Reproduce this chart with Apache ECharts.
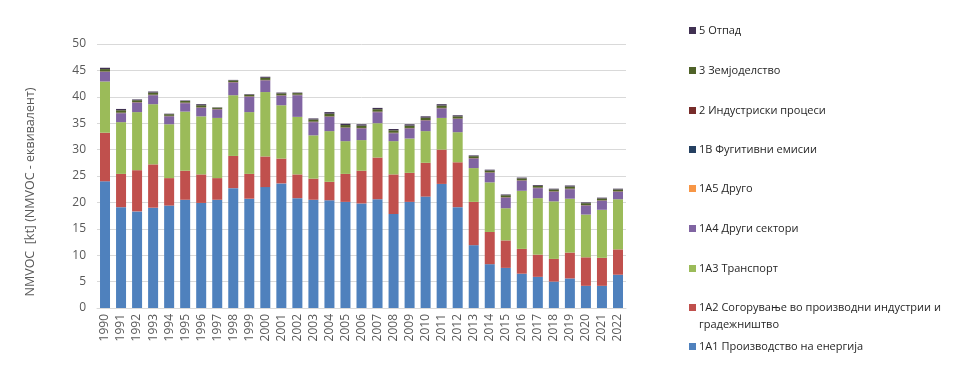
<!DOCTYPE html>
<html>
<head>
<meta charset="utf-8">
<script src="https://cdn.jsdelivr.net/npm/echarts@6/dist/echarts.min.js"></script>
<style>
html,body{margin:0;padding:0;background:#fff;}
#chart{width:960px;height:381px;}
</style>
</head>
<body>
<div id="chart"></div>
<script>
var years = ['1990','1991','1992','1993','1994','1995','1996','1997','1998','1999','2000','2001','2002','2003','2004','2005','2006','2007','2008','2009','2010','2011','2012','2013','2014','2015','2016','2017','2018','2019','2020','2021','2022'];
var yTicks = [0, 5, 10, 15, 20, 25, 30, 35, 40, 45, 50];

var energy1A1 = [24.0,19.1,18.3,19.0,19.4,20.5,19.9,20.5,22.7,20.7,22.9,23.6,20.8,20.5,20.4,20.1,19.8,20.6,17.8,20.1,21.1,23.5,19.1,11.9,8.3,7.6,6.5,5.9,5.0,5.6,4.2,4.2,6.3];
var industry1A2 = [9.2,6.3,7.8,8.2,5.2,5.5,5.4,4.1,6.1,4.7,5.8,4.7,4.5,4.0,3.5,5.3,6.2,7.9,7.5,5.5,6.4,6.5,8.5,8.2,6.1,5.2,4.7,4.2,4.3,4.9,5.4,5.3,4.8];
var transport1A3 = [9.7,9.8,11.0,11.4,10.2,11.2,11.0,11.4,11.5,11.7,12.2,10.1,10.9,8.2,9.6,6.2,5.8,6.5,6.3,6.5,6.0,6.0,5.7,6.4,9.4,6.1,11.0,10.7,10.9,10.2,8.1,9.1,9.5];
var other1A4 = [1.8,1.7,1.8,1.7,1.5,1.6,1.6,1.6,2.4,2.9,2.2,1.8,4.1,2.5,2.7,2.5,2.2,2.1,1.5,1.9,2.0,1.8,2.5,1.8,1.8,2.0,1.9,1.9,1.8,1.8,1.7,1.7,1.4];
var other1A5 = [0.02,0.02,0.02,0.02,0.02,0.02,0.02,0.02,0.02,0.02,0.02,0.02,0.02,0.02,0.02,0.02,0.02,0.02,0.02,0.02,0.02,0.02,0.02,0.02,0.02,0.02,0.02,0.02,0.02,0.02,0.02,0.02,0.02];
var fugitive1B = [0.03,0.03,0.03,0.03,0.03,0.03,0.03,0.03,0.03,0.03,0.03,0.03,0.03,0.03,0.03,0.03,0.03,0.03,0.03,0.03,0.03,0.03,0.03,0.03,0.03,0.03,0.03,0.03,0.03,0.03,0.03,0.03,0.03];
var industrial2 = [0.05,0.05,0.05,0.05,0.05,0.05,0.05,0.05,0.05,0.05,0.05,0.05,0.05,0.05,0.05,0.05,0.05,0.05,0.05,0.05,0.05,0.05,0.05,0.05,0.05,0.05,0.05,0.05,0.05,0.05,0.05,0.05,0.05];
var agriculture3 = [0.45,0.45,0.35,0.4,0.3,0.3,0.4,0.25,0.3,0.3,0.4,0.35,0.3,0.4,0.5,0.45,0.45,0.45,0.45,0.45,0.45,0.45,0.4,0.35,0.35,0.35,0.35,0.35,0.35,0.4,0.35,0.35,0.35];
var waste5 = [0.25,0.25,0.15,0.2,0.1,0.1,0.2,0.05,0.1,0.1,0.2,0.15,0.1,0.2,0.3,0.25,0.25,0.25,0.25,0.25,0.25,0.25,0.2,0.15,0.15,0.15,0.15,0.15,0.15,0.2,0.15,0.15,0.15];

var seriesNames = ['1A1 Производство на енергија','1A2 Согорување во производни индустрии и градежништво','1A3 Транспорт','1A4 Други сектори','1A5 Друго','1B Фугитивни емисии','2 Индустриски процеси','3 Земјоделство','5 Отпад'];
var yAxisTitle = 'NMVOC  [kt] (NMVOC - еквивалент)';
var seriesData = [energy1A1, industry1A2, transport1A3, other1A4, other1A5, fugitive1B, industrial2, agriculture3, waste5];
var colors = ['#4f81bd','#c0504d','#9bbb59','#8064a2','#f79646','#254061','#772c2a','#4f6228','#403152'];
var legendCenters = [348,309,270,230,190,151,112,72,32];

var FONT = 'Open Sans';
var chart = echarts.init(document.getElementById('chart'), null, {renderer:'canvas'});

var series = seriesNames.map(function(n,i){
  return {name:n, type:'bar', stack:'total', data:seriesData[i], barWidth:10,
          itemStyle:{color:colors[i]}, emphasis:{disabled:true}};
});

var legends = seriesNames.map(function(n,i){
  return {
    data:[n], left:689, top:legendCenters[i]-8, orient:'vertical',
    icon:'rect', itemWidth:7, itemHeight:7, itemGap:0,
    padding:[1,0,1,0],
    selectedMode:false,
    textStyle:{fontFamily:FONT, fontSize:11, color:'#262626', padding:[0,0,0,-2]},
    formatter: function(name){ return name === seriesNames[1] ? '1A2 Согорување во производни индустрии и' : name; }
  };
});

chart.setOption({
  animation:false,
  backgroundColor:'#ffffff',
  color:colors,
  grid:{left:97, right:334, top:44, bottom:73},
  legend:legends,
  graphic:[
    {type:'text', left:699, top:319, style:{text:'градежништво', fill:'#262626', font:'11px "'+FONT+'"'}},
    {type:'text', x:30, y:192, rotation:Math.PI/2,
     style:{text:yAxisTitle, fill:'#595959', font:'12.5px "'+FONT+'"', textAlign:'center', textVerticalAlign:'middle'}}
  ],
  xAxis:{type:'category', data:years,
    axisLine:{lineStyle:{color:'#d9d9d9'}}, axisTick:{show:false},
    axisLabel:{rotate:90, fontFamily:FONT, fontSize:12, color:'#595959', margin:6, interval:0}},
  yAxis:{type:'value', min:yTicks[0], max:yTicks[yTicks.length-1], interval:5,
    axisLine:{show:false}, axisTick:{show:false},
    axisLabel:{fontFamily:FONT, fontSize:12, color:'#595959', margin:11},
    splitLine:{lineStyle:{color:'#d9d9d9', width:1}}},
  series:series
});
</script>
</body>
</html>
